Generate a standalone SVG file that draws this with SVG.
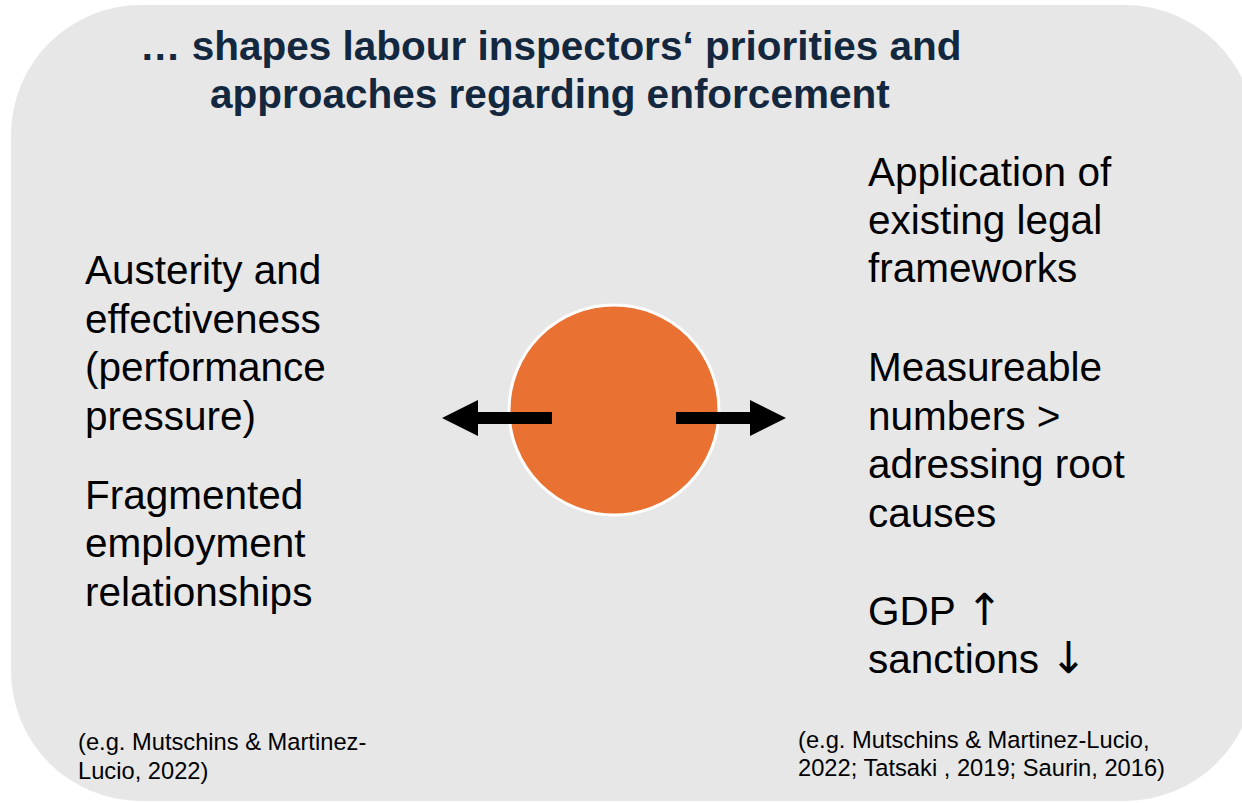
<svg xmlns="http://www.w3.org/2000/svg" width="1242" height="803" viewBox="0 0 1242 803">
  <style>
    .title { font-family: "Liberation Sans", Arial, sans-serif; font-weight: bold; font-size: 40.5px; fill: #13283f; }
    .body { font-family: "Liberation Sans", Arial, "DejaVu Sans", sans-serif; font-size: 40.5px; fill: #000000; }
    .sym { font-family: "DejaVu Sans", sans-serif; font-size: 44px; }
    .cite { font-family: "Liberation Sans", Arial, sans-serif; font-size: 23.7px; fill: #000000; }
  </style>
  <defs>
    <marker id="head" viewBox="0 0 36 36" refX="0" refY="18" markerWidth="36" markerHeight="36" markerUnits="userSpaceOnUse" orient="auto">
      <path d="M0,0 L36,18 L0,36 Z" fill="#000000"/>
    </marker>
  </defs>

  <!-- panel background -->
  <rect x="0" y="0" width="1242" height="803" fill="#ffffff"/>
  <rect x="11" y="5" width="1244" height="796" rx="130" ry="130" fill="#e7e7e7"/>

  <!-- heading -->
  <g id="heading">
    <text class="title" x="140" y="60">… shapes labour inspectors‘ priorities and</text>
    <text class="title" x="210" y="108">approaches regarding enforcement</text>
  </g>

  <!-- central circle -->
  <g id="centre">
    <circle cx="614" cy="410" r="105" fill="#e97132" stroke="#ffffff" stroke-width="3"/>
  </g>

  <!-- connectors -->
  <g id="connectors" stroke="#000000" stroke-width="12" fill="none">
    <line x1="552" y1="418" x2="478" y2="418" marker-end="url(#head)"/>
    <line x1="676" y1="418" x2="750" y2="418" marker-end="url(#head)"/>
  </g>

  <!-- left side factors -->
  <g id="left-factors">
    <text class="body" x="85" y="284">Austerity and</text>
    <text class="body" x="85" y="333">effectiveness</text>
    <text class="body" x="85" y="381">(performance</text>
    <text class="body" x="85" y="430">pressure)</text>
    <text class="body" x="85" y="509">Fragmented</text>
    <text class="body" x="85" y="557">employment</text>
    <text class="body" x="85" y="606">relationships</text>
  </g>

  <!-- right side outcomes -->
  <g id="right-outcomes">
    <text class="body" x="868" y="186">Application of</text>
    <text class="body" x="868" y="234">existing legal</text>
    <text class="body" x="868" y="282">frameworks</text>
    <text class="body" x="868" y="381">Measureable</text>
    <text class="body" x="868" y="430">numbers &gt;</text>
    <text class="body" x="868" y="478">adressing root</text>
    <text class="body" x="868" y="527">causes</text>
    <text class="body" x="868" y="625">GDP <tspan class="sym">↑</tspan></text>
    <text class="body" x="868" y="673">sanctions <tspan class="sym">↓</tspan></text>
  </g>

  <!-- references -->
  <g id="left-citation">
    <text class="cite" x="78" y="750">(e.g. Mutschins &amp; Martinez-</text>
    <text class="cite" x="78" y="779">Lucio, 2022)</text>
  </g>
  <g id="right-citation">
    <text class="cite" x="798" y="748">(e.g. Mutschins &amp; Martinez-Lucio,</text>
    <text class="cite" x="798" y="776">2022; Tatsaki , 2019; Saurin, 2016)</text>
  </g>
</svg>
